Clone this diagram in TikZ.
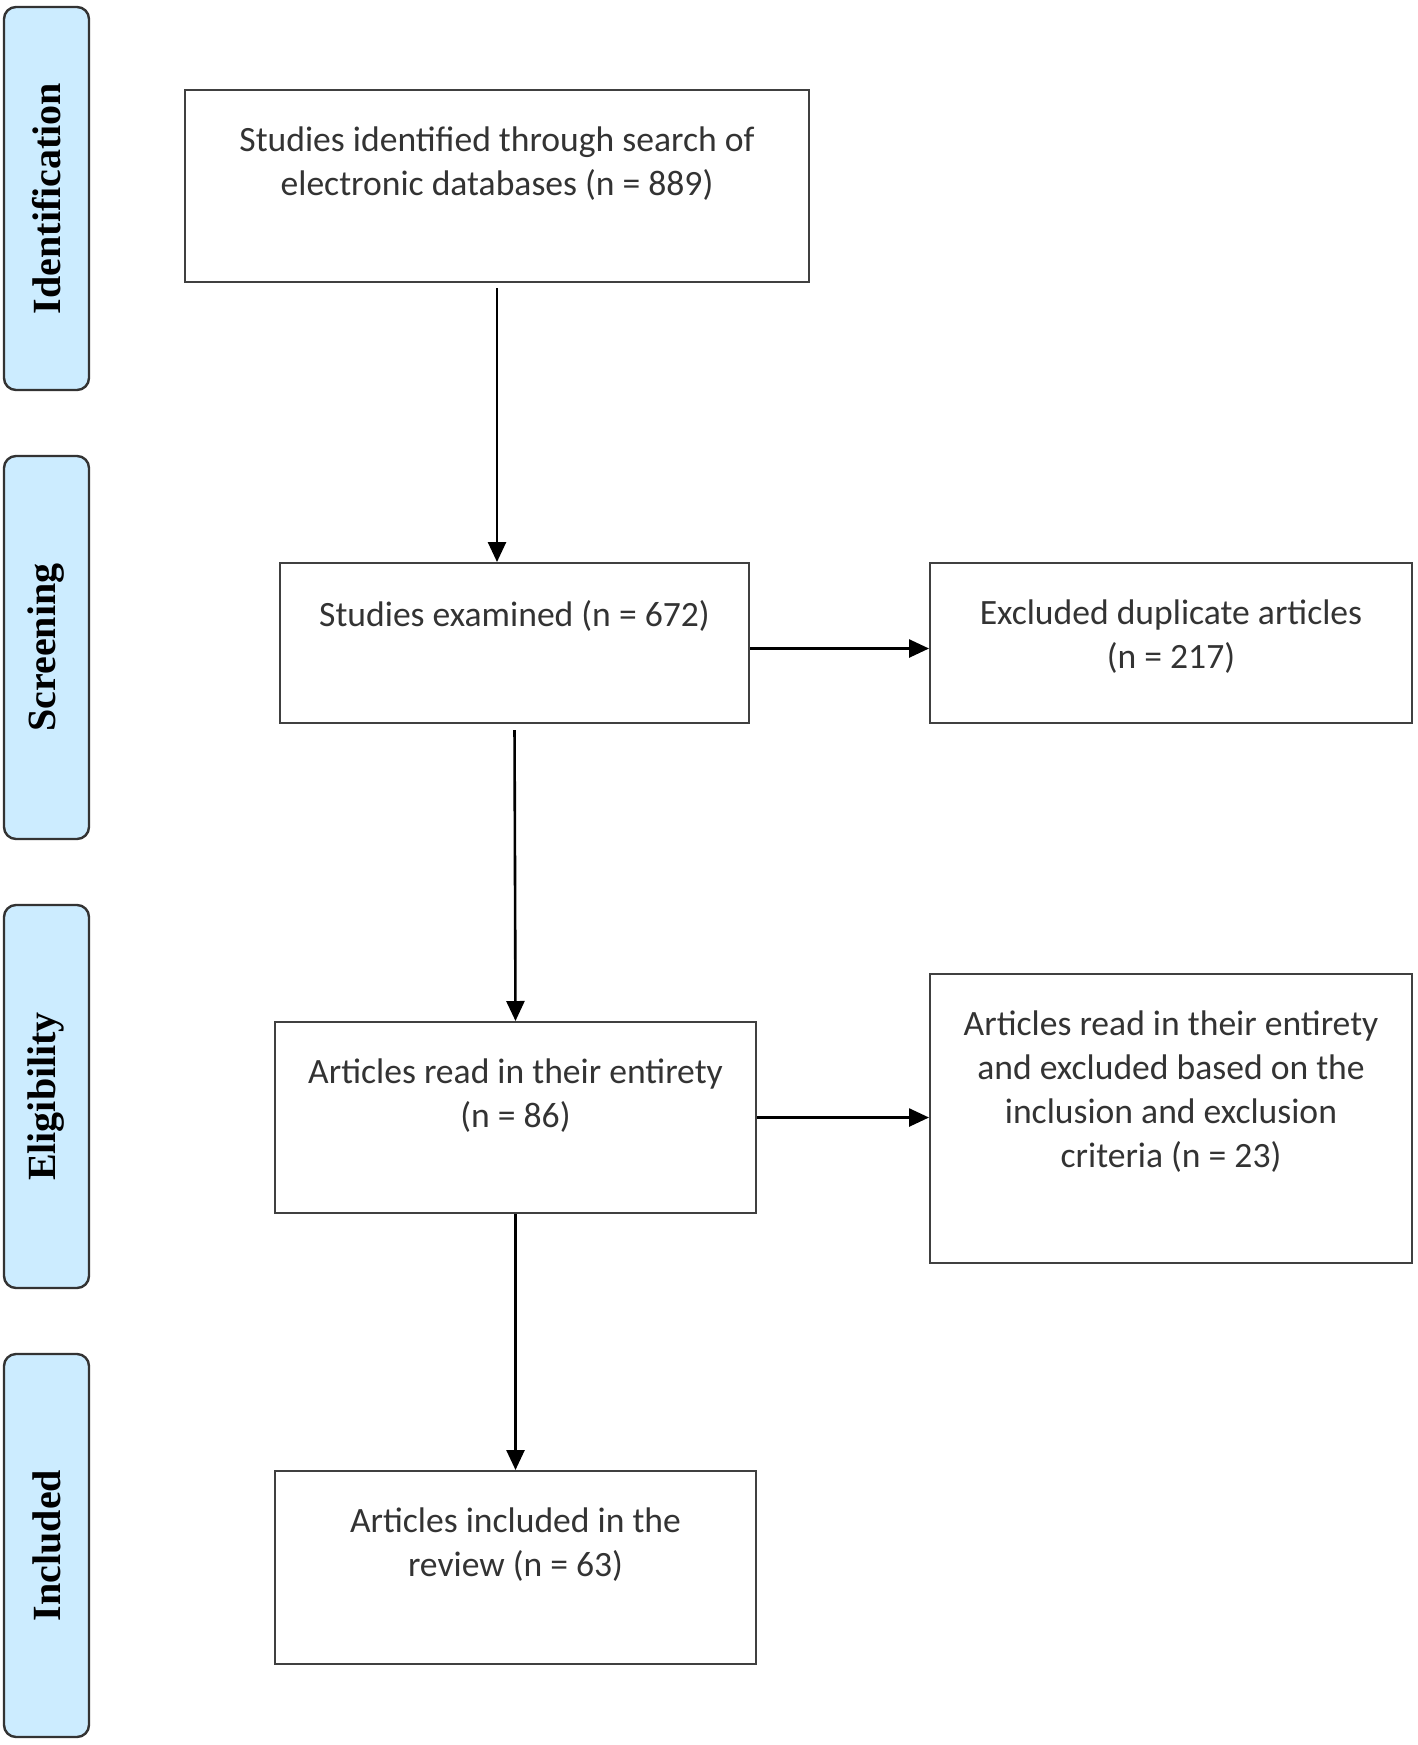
\documentclass[tikz,border=0pt]{standalone}
\usepackage{fontspec}
\setmainfont{Carlito}
\newfontfamily\phasefont{Liberation Serif}
\usetikzlibrary{arrows.meta}

\definecolor{phaseblue}{RGB}{204,236,255}

\tikzset{
  phasebar/.style={draw=black!80, line width=1.2pt, fill=phaseblue,
    rounded corners=6pt, minimum width=191.5pt, minimum height=42.5pt,
    rotate=90, font=\phasefont\bfseries\fontsize{20}{24}\selectfont},
  flowbox/.style={draw=black!75, line width=1pt, inner sep=0pt},
  boxtext/.style={anchor=north, align=center, inner sep=0pt, text=black!80,
    font=\fontsize{17.8}{22}\selectfont},
  flow/.style={->, line width=1.3pt},
}

\begin{document}
\begin{tikzpicture}[x=0.5pt, y=-0.5pt, >={Triangle[length=10pt,width=9pt]}]
\useasboundingbox (0,0) rectangle (1418,1745);

% Phasen (links)
\node[phasebar] (PhIdent) at (46.5,198.5)  {Identification};
\node[phasebar] (PhScreen) at (46.5,647.5) {Screening};
\node[phasebar] (PhElig)  at (46.5,1096.5) {Eligibility};
\node[phasebar] (PhIncl)  at (46.5,1545.5) {Included};

% Kaesten
\node[flowbox, minimum width=312pt,   minimum height=96pt]   (Ident)  at (497,186)     {};
\node[flowbox, minimum width=234.5pt, minimum height=80pt]   (Screen) at (514.5,643)   {};
\node[flowbox, minimum width=241pt,   minimum height=80pt]   (Dupl)   at (1171,643)    {};
\node[flowbox, minimum width=240.5pt, minimum height=95.5pt] (Elig)   at (515.5,1117.5) {};
\node[flowbox, minimum width=241pt,   minimum height=144.5pt] (Excl)  at (1171,1118.5) {};
\node[flowbox, minimum width=240.5pt, minimum height=96.5pt] (Incl)   at (515.5,1567.5) {};

% Texte
\node[boxtext] (IdentT)  at ([yshift=-18.8pt]Ident.north)
  {Studies identified through search of\\electronic databases (n = 889)};
\node[boxtext] (ScreenT) at ([yshift=-18.8pt]Screen.north) {Studies examined (n = 672)};
\node[boxtext] (DuplT)   at ([yshift=-18.8pt]Dupl.north)
  {Excluded duplicate articles\\(n = 217)};
\node[boxtext] (EligT)   at ([yshift=-18.8pt]Elig.north)
  {Articles read in their entirety\\(n = 86)};
\node[boxtext] (ExclT)   at ([yshift=-18.8pt]Excl.north)
  {Articles read in their entirety\\and excluded based on the\\inclusion and exclusion\\criteria (n = 23)};
\node[boxtext] (InclT)   at ([yshift=-18.8pt]Incl.north)
  {Articles included in the\\review (n = 63)};

% Pfeile
\draw[flow, shorten <=2.5pt] (Ident.south) -- (Ident.south |- Screen.north);
\draw[flow] ([yshift=-2.75pt]Screen.east) -- ([yshift=-2.75pt]Screen.east -| Dupl.west);
\draw[flow, shorten <=3pt] (Screen.south) -- (Elig.north);
\draw[flow] (Elig.east) -- (Elig.east -| Excl.west);
\draw[flow] (Elig.south) -- (Incl.north);

\end{tikzpicture}
\end{document}
